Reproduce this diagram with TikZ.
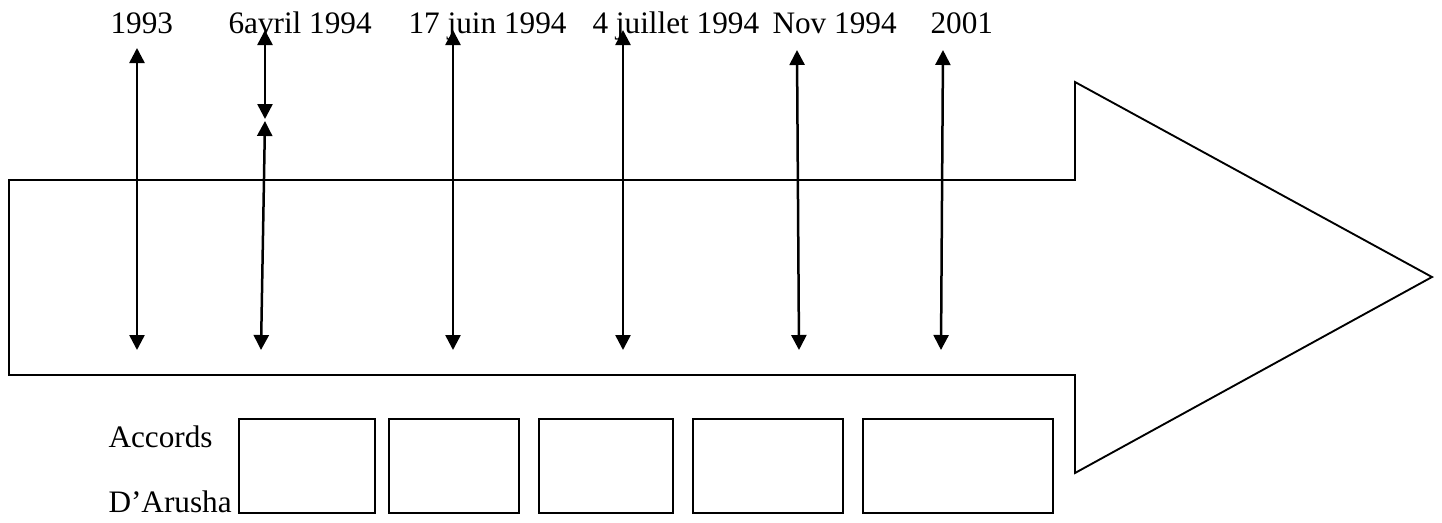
\documentclass[tikz,border=0pt]{standalone}
\usepackage{fontspec}
\setmainfont{Liberation Serif}
\usetikzlibrary{arrows.meta}

\tikzset{
  datelbl/.style={anchor=base west, inner sep=0pt, font=\fontsize{12.5}{15}\selectfont},
  evt/.style={line width=1pt, {Triangle[width=6pt,length=6pt]}-{Triangle[width=6pt,length=6pt]}},
  slot/.style={draw, line width=0.8pt, inner sep=0pt, minimum height=37.6pt},
}

\begin{document}
\begin{tikzpicture}[x=0.4pt,y=-0.4pt]
    \useasboundingbox (0,0) rectangle (1442,522);

    % big arrow
    \draw[line width=0.75pt] (9,180) -- (1075,180) -- (1075,82) -- (1432,277)
        -- (1075,473) -- (1075,375) -- (9,375) -- cycle;

    % dates
    \node[datelbl] (d1) at (110,33) {1993};
    \node[datelbl] (d2) at (228,33) {6avril 1994};
    \node[datelbl] (d3) at (408,33) {17 juin 1994};
    \node[datelbl] (d4) at (592,33) {4 juillet 1994};
    \node[datelbl] (d5) at (772,33) {Nov 1994};
    \node[datelbl] (d6) at (930,33) {2001};

    % arrow ends
    \coordinate (t1) at (137,48);   \coordinate (b1) at (137,350);
    \coordinate (t2) at (265,30);   \coordinate (m2) at (265,119);
    \coordinate (u2) at (265,121);  \coordinate (b2) at (261,350);
    \coordinate (t3) at (453,30);   \coordinate (b3) at (453,350);
    \coordinate (t4) at (623,30);   \coordinate (b4) at (623,350);
    \coordinate (t5) at (797,50);   \coordinate (b5) at (799,350);
    \coordinate (t6) at (943,50);   \coordinate (b6) at (941,350);

    \draw[evt] (t1) -- (b1);
    \draw[evt] (t2) -- (m2);
    \draw[evt] (u2) -- (b2);
    \draw[evt] (t3) -- (b3);
    \draw[evt] (t4) -- (b4);
    \draw[evt] (t5) -- (b5);
    \draw[evt] (t6) -- (b6);

    % boxes
    \node[datelbl] (acc) at (108,447) {Accords};
    \node[datelbl] (aru) at (108,512) {D’Arusha};
    \node[slot, minimum width=54.4pt] (box1) at (307,466) {};
    \node[slot, minimum width=52pt] (box2) at (454,466) {};
    \node[slot, minimum width=53.6pt] (box3) at (606,466) {};
    \node[slot, minimum width=60pt] (box4) at (768,466) {};
    \node[slot, minimum width=76pt] (box5) at (958,466) {};

\end{tikzpicture}
\end{document}
